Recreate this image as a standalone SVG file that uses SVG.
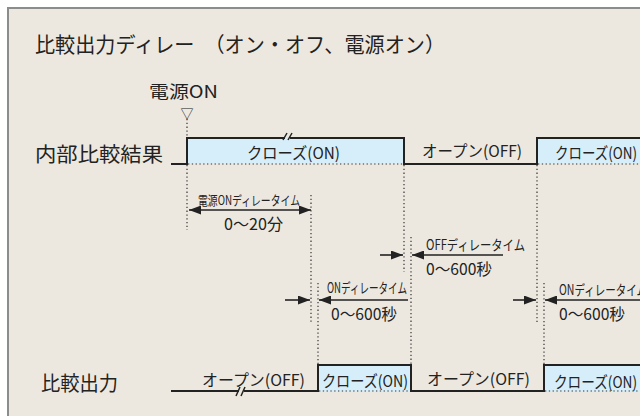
<svg xmlns="http://www.w3.org/2000/svg" width="640" height="416" viewBox="0 0 640 416">
<defs>
<style>
text{font-family:"Noto Sans CJK JP","Noto Sans",sans-serif;fill:#222}
.lbl{font-size:20px}
.st{font-size:16px}
.sm{font-size:14px}
.sig{fill:none;stroke:#222;stroke-width:2}
.dot{fill:none;stroke:#333;stroke-width:1.2;stroke-dasharray:1.3 2.5}
.arr{fill:none;stroke:#222;stroke-width:1.6}
.blue{fill:#d6eef9}
</style>
<marker id="ah" viewBox="0 0 12 9" refX="12" refY="4.5" markerWidth="12" markerHeight="9" markerUnits="userSpaceOnUse" orient="auto-start-reverse">
<path d="M0,0 L12,4.5 L0,9 Z" fill="#222"/>
</marker>
</defs>
<rect x="0" y="0" width="640" height="416" fill="#ffffff"/>
<rect x="8" y="8" width="650" height="430" fill="#ede8df" stroke="#8c8c8c" stroke-width="2"/>
<text class="lbl" x="35" y="52" style="font-size:21px" textLength="410" lengthAdjust="spacingAndGlyphs">比較出力ディレー　（オン・オフ、電源オン）</text>

<g id="power-on">
<text x="149" y="98" style="font-size:17px" textLength="69" lengthAdjust="spacingAndGlyphs">電源ON</text>
<text x="187" y="118" style="font-size:13px" text-anchor="middle">▽</text>
</g>

<g id="internal-signal">
<text class="lbl" x="35" y="162" textLength="128" lengthAdjust="spacingAndGlyphs">内部比較結果</text>
<rect class="blue" x="187" y="138" width="217" height="26"/>
<rect class="blue" x="537" y="138" width="103" height="26"/>
<path class="dot" d="M188,164 H404 M538,164 H640"/>
<path class="sig" d="M171,164 H187 V138 H285 M290,138 H404 V164 H537 V138 H641"/>
<path class="sig" style="stroke-width:1.5" d="M283,140 L287,133 M288,140 L292,133"/>
<text class="st" x="247" y="159" textLength="93" lengthAdjust="spacingAndGlyphs">クローズ(ON)</text>
<text class="st" x="422" y="157" textLength="100" lengthAdjust="spacingAndGlyphs">オープン(OFF)</text>
<text class="st" x="555" y="159" textLength="82" lengthAdjust="spacingAndGlyphs">クローズ(ON)</text>
</g>

<g id="output-signal">
<text class="lbl" x="41" y="391" textLength="77" lengthAdjust="spacingAndGlyphs">比較出力</text>
<rect class="blue" x="318" y="365" width="93" height="26"/>
<rect class="blue" x="544" y="365" width="96" height="26"/>
<path class="dot" d="M319,391 H411 M545,391 H640"/>
<path class="sig" d="M171,391 H239 M244,391 H318 V365 H411 V391 H544 V365 H641"/>
<path class="sig" style="stroke-width:1.5" d="M236,396 L240,387 M241,396 L245,387"/>
<text class="st" x="202" y="386" textLength="103" lengthAdjust="spacingAndGlyphs">オープン(OFF)</text>
<text class="st" x="322" y="387" textLength="86" lengthAdjust="spacingAndGlyphs">クローズ(ON)</text>
<text class="st" x="427" y="385" textLength="103" lengthAdjust="spacingAndGlyphs">オープン(OFF)</text>
<text class="st" x="554" y="388" textLength="83" lengthAdjust="spacingAndGlyphs">クローズ(ON)</text>
</g>

<g id="connectors">
<path class="dot" d="M187,119 V138 M187,165 V230 M311,195 V322 M318,283 V365 M404,165 V272 M411,237 V365 M537,165 V322 M544,283 V365"/>
<line class="arr" x1="189" y1="210" x2="311" y2="210" marker-start="url(#ah)" marker-end="url(#ah)"/>
<line class="arr" x1="380" y1="255" x2="403" y2="255" marker-end="url(#ah)"/>
<line class="arr" x1="503" y1="255" x2="412" y2="255" marker-end="url(#ah)"/>
<line class="arr" x1="285" y1="300" x2="310" y2="300" marker-end="url(#ah)"/>
<line class="arr" x1="408" y1="300" x2="319" y2="300" marker-end="url(#ah)"/>
<line class="arr" x1="513" y1="300" x2="536" y2="300" marker-end="url(#ah)"/>
<line class="arr" x1="641" y1="300" x2="545" y2="300" marker-end="url(#ah)"/>
</g>

<g id="delay-labels">
<text style="font-size:13px" x="198" y="205" textLength="102" lengthAdjust="spacingAndGlyphs">電源ONディレータイム</text>
<text class="st" x="224" y="230" textLength="59" lengthAdjust="spacingAndGlyphs">0〜20分</text>
<text class="sm" x="426" y="250" textLength="99" lengthAdjust="spacingAndGlyphs">OFFディレータイム</text>
<text class="st" x="426" y="275" textLength="66" lengthAdjust="spacingAndGlyphs">0〜600秒</text>
<text class="sm" x="327" y="293" textLength="80" lengthAdjust="spacingAndGlyphs">ONディレータイム</text>
<text class="st" x="331" y="320" textLength="66" lengthAdjust="spacingAndGlyphs">0〜600秒</text>
<text class="sm" x="559" y="295" textLength="88" lengthAdjust="spacingAndGlyphs">ONディレータイム</text>
<text class="st" x="559" y="320" textLength="66" lengthAdjust="spacingAndGlyphs">0〜600秒</text>
</g>
</svg>
